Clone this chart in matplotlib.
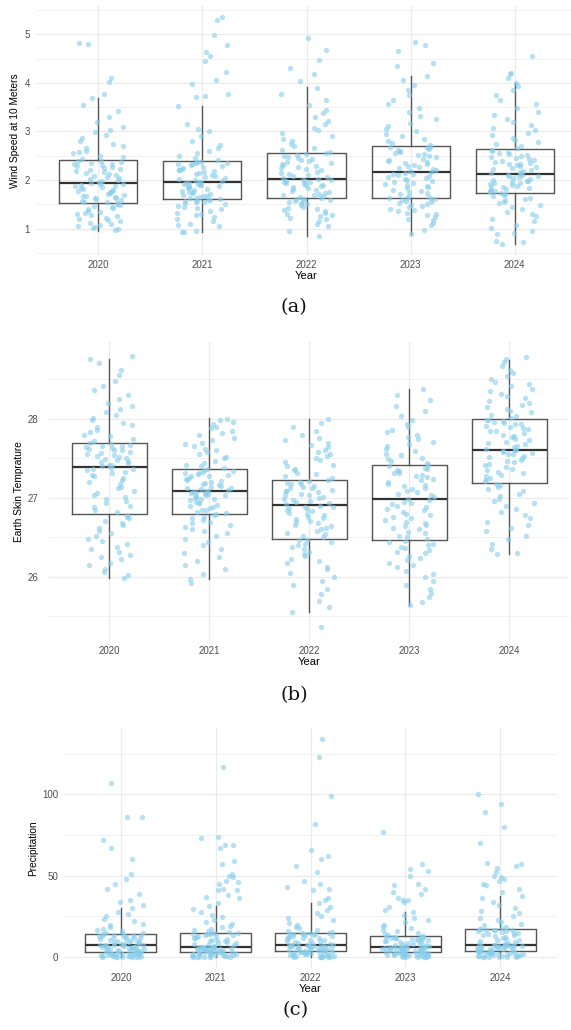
import numpy as np
import matplotlib.pyplot as plt

years = ['2020', '2021', '2022', '2023', '2024']

# --- (a) wind speed, points ---
wind_2020 = [0.97, 1.0, 1.02, 1.04, 1.06, 1.08, 1.1, 1.12, 1.15, 1.18, 1.2, 1.22, 1.25, 1.27, 1.3, 1.32, 1.35, 1.37, 1.4, 1.42, 1.45, 1.47, 1.49, 1.51, 1.52,
             1.54, 1.55, 1.57, 1.58, 1.6, 1.62, 1.63, 1.65, 1.67, 1.68, 1.7, 1.72, 1.73, 1.75, 1.77, 1.78, 1.8, 1.82, 1.83, 1.85, 1.87, 1.88, 1.9, 1.91, 1.92,
             1.94, 1.96, 1.98, 2.0, 2.02, 2.04, 2.06, 2.08, 2.1, 2.12, 2.14, 2.16, 2.18, 2.2, 2.22, 2.24, 2.26, 2.28, 2.3, 2.32, 2.34, 2.36, 2.38, 2.39, 2.4,
             2.43, 2.47, 2.5, 2.55, 2.58, 2.6, 2.65, 2.7, 2.75, 2.8, 2.87, 2.93, 2.98, 3.02, 3.1, 3.2, 3.3, 3.42, 3.55, 3.68, 3.78, 4.02, 4.1, 4.8, 4.83]
wind_2021 = [0.92, 0.93, 0.95, 1.05, 1.08, 1.1, 1.15, 1.2, 1.24, 1.28, 1.3, 1.33, 1.37, 1.4, 1.42, 1.45, 1.47, 1.5, 1.52, 1.54, 1.55, 1.56, 1.57, 1.58, 1.59,
             1.61, 1.62, 1.64, 1.65, 1.67, 1.68, 1.7, 1.71, 1.73, 1.75, 1.76, 1.78, 1.8, 1.81, 1.83, 1.85, 1.86, 1.88, 1.89, 1.9, 1.91, 1.92, 1.93, 1.94, 1.95,
             1.96, 1.98, 2.0, 2.02, 2.04, 2.06, 2.08, 2.1, 2.12, 2.14, 2.16, 2.18, 2.2, 2.21, 2.23, 2.25, 2.27, 2.29, 2.3, 2.32, 2.33, 2.35, 2.36, 2.37, 2.38,
             2.42, 2.46, 2.5, 2.55, 2.6, 2.65, 2.72, 2.8, 2.9, 3.0, 3.05, 3.15, 3.53, 3.7, 3.74, 3.78, 3.97, 4.05, 4.22, 4.45, 4.55, 4.63, 4.78, 4.98, 5.36, 5.3]
wind_2022 = [0.84, 0.95, 1.05, 1.1, 1.15, 1.2, 1.22, 1.25, 1.28, 1.3, 1.33, 1.36, 1.38, 1.4, 1.43, 1.45, 1.48, 1.5, 1.52, 1.54, 1.56, 1.57, 1.58, 1.6, 1.61,
             1.63, 1.65, 1.67, 1.69, 1.7, 1.72, 1.74, 1.76, 1.78, 1.8, 1.82, 1.83, 1.85, 1.87, 1.89, 1.9, 1.92, 1.93, 1.95, 1.96, 1.97, 1.98, 2.0, 2.01, 2.02,
             2.04, 2.06, 2.08, 2.1, 2.13, 2.15, 2.17, 2.2, 2.22, 2.24, 2.27, 2.29, 2.31, 2.34, 2.36, 2.38, 2.4, 2.42, 2.44, 2.46, 2.48, 2.5, 2.52, 2.54, 2.55,
             2.58, 2.62, 2.66, 2.7, 2.75, 2.8, 2.85, 2.9, 2.96, 3.02, 3.08, 3.15, 3.22, 3.3, 3.38, 3.45, 3.55, 3.65, 3.78, 3.9, 4.03, 4.19, 4.31, 4.48, 4.68, 4.92]
wind_2023 = [0.88, 0.98, 1.08, 1.12, 1.18, 1.2, 1.24, 1.27, 1.3, 1.33, 1.36, 1.39, 1.41, 1.44, 1.46, 1.48, 1.5, 1.52, 1.54, 1.56, 1.58, 1.6, 1.61, 1.62, 1.63,
             1.66, 1.68, 1.71, 1.73, 1.76, 1.78, 1.8, 1.83, 1.85, 1.87, 1.9, 1.92, 1.94, 1.96, 1.98, 2.0, 2.02, 2.04, 2.06, 2.08, 2.1, 2.12, 2.13, 2.15, 2.16,
             2.18, 2.2, 2.22, 2.24, 2.26, 2.28, 2.3, 2.33, 2.35, 2.37, 2.4, 2.42, 2.44, 2.47, 2.49, 2.51, 2.54, 2.56, 2.58, 2.6, 2.62, 2.64, 2.66, 2.68, 2.69,
             2.72, 2.76, 2.8, 2.85, 2.9, 2.95, 3.0, 3.06, 3.12, 3.18, 3.25, 3.32, 3.4, 3.48, 3.56, 3.65, 3.75, 3.85, 3.95, 4.05, 4.15, 4.34, 4.41, 4.65, 4.79, 4.84]
wind_2024 = [0.69, 0.72, 0.75, 0.88, 0.9, 0.95, 1.02, 1.08, 1.15, 1.2, 1.26, 1.3, 1.35, 1.4, 1.44, 1.48, 1.52, 1.55, 1.58, 1.61, 1.64, 1.67, 1.69, 1.71, 1.73,
             1.75, 1.77, 1.78, 1.8, 1.82, 1.83, 1.85, 1.86, 1.88, 1.9, 1.91, 1.93, 1.94, 1.96, 1.98, 1.99, 2.01, 2.03, 2.04, 2.06, 2.08, 2.09, 2.1, 2.11, 2.12,
             2.14, 2.16, 2.18, 2.2, 2.22, 2.24, 2.26, 2.28, 2.3, 2.32, 2.34, 2.36, 2.38, 2.4, 2.42, 2.44, 2.46, 2.48, 2.5, 2.52, 2.54, 2.56, 2.58, 2.6, 2.62,
             2.66, 2.7, 2.74, 2.78, 2.82, 2.87, 2.92, 2.97, 3.02, 3.08, 3.14, 3.2, 3.26, 3.33, 3.4, 3.48, 3.56, 3.65, 3.75, 3.85, 3.93, 4.0, 4.1, 4.18, 4.2, 4.56]

wind_whislo = [0.95, 0.92, 0.84, 0.88, 0.69]
wind_q1 = [1.53, 1.60, 1.62, 1.64, 1.74]
wind_med = [1.93, 1.95, 2.03, 2.17, 2.13]
wind_q3 = [2.41, 2.39, 2.56, 2.70, 2.64]
wind_whishi = [3.69, 3.53, 3.92, 4.15, 4.00]

# --- (b) earth skin temperature ---
temp_2020 = [25.99, 26.02, 26.06, 26.1, 26.15, 26.18, 26.22, 26.25, 26.28, 26.32, 26.35, 26.38, 26.42, 26.45, 26.48, 26.52, 26.55, 26.58, 26.62, 26.65, 26.68, 26.71, 26.74, 26.76, 26.78,
             26.82, 26.85, 26.88, 26.9, 26.93, 26.96, 26.98, 27.01, 27.04, 27.06, 27.09, 27.12, 27.14, 27.17, 27.2, 27.22, 27.25, 27.27, 27.29, 27.31, 27.33, 27.35, 27.36, 27.37, 27.38,
             27.4, 27.41, 27.42, 27.44, 27.45, 27.46, 27.48, 27.49, 27.5, 27.52, 27.53, 27.54, 27.56, 27.57, 27.58, 27.6, 27.61, 27.62, 27.63, 27.64, 27.65, 27.66, 27.67, 27.68, 27.69,
             27.72, 27.75, 27.78, 27.8, 27.83, 27.86, 27.89, 27.92, 27.95, 27.98, 28.01, 28.05, 28.08, 28.12, 28.16, 28.2, 28.25, 28.3, 28.36, 28.42, 28.48, 28.55, 28.62, 28.7, 28.76, 28.8]
temp_2021 = [25.92, 25.97, 26.03, 26.1, 26.15, 26.2, 26.25, 26.3, 26.35, 26.4, 26.44, 26.48, 26.52, 26.55, 26.58, 26.6, 26.63, 26.66, 26.68, 26.7, 26.72, 26.74, 26.76, 26.78, 26.79,
             26.81, 26.82, 26.84, 26.85, 26.87, 26.88, 26.9, 26.91, 26.93, 26.94, 26.95, 26.97, 26.98, 26.99, 27.0, 27.01, 27.02, 27.03, 27.04, 27.05, 27.05, 27.06, 27.07, 27.07, 27.08,
             27.09, 27.1, 27.11, 27.12, 27.13, 27.14, 27.15, 27.16, 27.18, 27.19, 27.2, 27.21, 27.23, 27.24, 27.25, 27.27, 27.28, 27.29, 27.3, 27.31, 27.32, 27.33, 27.34, 27.35, 27.36,
             27.38, 27.4, 27.42, 27.44, 27.47, 27.5, 27.52, 27.55, 27.58, 27.6, 27.62, 27.65, 27.68, 27.7, 27.73, 27.76, 27.79, 27.82, 27.85, 27.88, 27.9, 27.93, 27.96, 27.99, 28.0]
temp_2022 = [25.36, 25.56, 25.62, 25.7, 25.78, 25.85, 25.9, 25.95, 26.0, 26.05, 26.1, 26.13, 26.17, 26.2, 26.23, 26.26, 26.29, 26.32, 26.35, 26.38, 26.4, 26.42, 26.44, 26.46, 26.47,
             26.5, 26.52, 26.54, 26.56, 26.58, 26.6, 26.62, 26.64, 26.66, 26.68, 26.7, 26.71, 26.73, 26.75, 26.76, 26.78, 26.8, 26.81, 26.83, 26.84, 26.86, 26.87, 26.88, 26.89, 26.9,
             26.92, 26.93, 26.95, 26.96, 26.97, 26.99, 27.0, 27.01, 27.03, 27.04, 27.05, 27.07, 27.08, 27.09, 27.1, 27.12, 27.13, 27.14, 27.15, 27.17, 27.18, 27.19, 27.2, 27.21, 27.22,
             27.25, 27.27, 27.3, 27.32, 27.35, 27.37, 27.4, 27.42, 27.45, 27.48, 27.5, 27.53, 27.56, 27.58, 27.61, 27.64, 27.67, 27.7, 27.73, 27.76, 27.8, 27.84, 27.9, 27.95, 28.0]
temp_2023 = [25.64, 25.68, 25.75, 25.8, 25.85, 25.9, 25.95, 26.0, 26.04, 26.08, 26.12, 26.15, 26.18, 26.21, 26.24, 26.27, 26.3, 26.32, 26.34, 26.36, 26.38, 26.4, 26.42, 26.44, 26.45,
             26.48, 26.5, 26.52, 26.55, 26.57, 26.6, 26.62, 26.64, 26.66, 26.68, 26.7, 26.72, 26.74, 26.76, 26.78, 26.8, 26.82, 26.84, 26.86, 26.88, 26.9, 26.92, 26.94, 26.95, 26.97,
             26.99, 27.01, 27.03, 27.05, 27.07, 27.09, 27.11, 27.13, 27.15, 27.16, 27.18, 27.2, 27.22, 27.24, 27.26, 27.27, 27.29, 27.31, 27.32, 27.34, 27.35, 27.37, 27.38, 27.4, 27.41,
             27.44, 27.46, 27.49, 27.51, 27.54, 27.56, 27.59, 27.62, 27.65, 27.68, 27.71, 27.74, 27.77, 27.8, 27.83, 27.86, 27.9, 27.94, 27.98, 28.04, 28.1, 28.16, 28.24, 28.3, 28.38]
temp_2024 = [26.29, 26.3, 26.35, 26.42, 26.48, 26.52, 26.58, 26.62, 26.66, 26.7, 26.74, 26.78, 26.82, 26.86, 26.9, 26.93, 26.96, 26.99, 27.02, 27.05, 27.08, 27.11, 27.14, 27.16, 27.18,
             27.21, 27.23, 27.25, 27.27, 27.29, 27.31, 27.33, 27.35, 27.37, 27.39, 27.41, 27.43, 27.45, 27.47, 27.48, 27.5, 27.52, 27.53, 27.55, 27.56, 27.57, 27.58, 27.59, 27.6, 27.6,
             27.62, 27.64, 27.66, 27.68, 27.69, 27.71, 27.73, 27.75, 27.77, 27.78, 27.8, 27.82, 27.84, 27.85, 27.87, 27.88, 27.9, 27.91, 27.93, 27.94, 27.95, 27.96, 27.97, 27.98, 27.99,
             28.01, 28.03, 28.05, 28.08, 28.1, 28.12, 28.15, 28.18, 28.2, 28.23, 28.26, 28.29, 28.32, 28.35, 28.38, 28.41, 28.44, 28.47, 28.5, 28.54, 28.58, 28.62, 28.67, 28.72, 28.76, 28.78]

temp_whislo = [25.99, 25.97, 25.56, 25.64, 26.29]
temp_q1 = [26.80, 26.80, 26.48, 26.46, 27.19]
temp_med = [27.39, 27.08, 26.91, 26.98, 27.61]
temp_q3 = [27.70, 27.36, 27.23, 27.42, 28.00]
temp_whishi = [28.76, 28.01, 28.00, 28.38, 28.74]

# --- (c) precipitation ---
rain_2020 = [0, 0, 0, 0.1, 0.1, 0.2, 0.3, 0.4, 0.5, 0.6, 0.8, 0.9, 1.0, 1.2, 1.4, 1.5, 1.7, 1.9, 2.0, 2.2, 2.4, 2.5, 2.7, 2.9, 3.0,
             3.2, 3.4, 3.6, 3.8, 4.0, 4.2, 4.4, 4.6, 4.8, 5.0, 5.2, 5.4, 5.6, 5.8, 6.0, 6.2, 6.4, 6.6, 6.8, 7.0, 7.1, 7.2, 7.3, 7.3, 7.4,
             7.6, 7.9, 8.2, 8.5, 8.8, 9.1, 9.4, 9.7, 10, 10.3, 10.6, 10.9, 11.2, 11.5, 11.8, 12.1, 12.4, 12.7, 13, 13.2, 13.4, 13.6, 13.8, 13.9, 14,
             14.5, 15, 15.8, 16.5, 17.4, 18.5, 19.5, 20.6, 22, 23.5, 25, 26.5, 28, 30, 32, 34, 35, 39, 42, 45, 48, 51, 60, 67, 72, 86, 86, 107]
rain_2021 = [0, 0, 0, 0.1, 0.2, 0.3, 0.4, 0.5, 0.7, 0.8, 1.0, 1.1, 1.3, 1.5, 1.6, 1.8, 2.0, 2.1, 2.3, 2.5, 2.6, 2.7, 2.8, 2.9, 3.0,
             3.2, 3.3, 3.5, 3.6, 3.8, 3.9, 4.1, 4.2, 4.4, 4.5, 4.7, 4.8, 5.0, 5.1, 5.3, 5.4, 5.6, 5.7, 5.8, 6.0, 6.1, 6.2, 6.3, 6.4, 6.5,
             6.8, 7.2, 7.6, 8.0, 8.4, 8.8, 9.2, 9.6, 10, 10.4, 10.8, 11.2, 11.6, 12, 12.4, 12.7, 13, 13.3, 13.6, 13.9, 14.1, 14.3, 14.5, 14.6, 14.7,
             15.2, 15.8, 16.5, 17.3, 18.2, 19.2, 20.3, 21.5, 23, 24.5, 26, 28, 29.5, 31.5, 33, 36, 37, 38, 41, 41, 42, 45, 46, 47, 49, 50, 51, 57, 59, 67, 69, 69, 73, 74, 117]
rain_2022 = [0, 0, 0, 0.1, 0.2, 0.3, 0.4, 0.6, 0.7, 0.9, 1.0, 1.2, 1.4, 1.6, 1.8, 2.0, 2.2, 2.4, 2.6, 2.8, 3.0, 3.1, 3.2, 3.3, 3.4,
             3.6, 3.8, 4.0, 4.2, 4.4, 4.6, 4.8, 5.0, 5.2, 5.4, 5.6, 5.8, 6.0, 6.2, 6.4, 6.6, 6.7, 6.8, 6.9, 7.0, 7.1, 7.2, 7.3, 7.3, 7.4,
             7.6, 8.0, 8.4, 8.8, 9.2, 9.6, 10, 10.4, 10.8, 11.2, 11.6, 12, 12.3, 12.6, 12.9, 13.2, 13.5, 13.7, 13.9, 14.1, 14.3, 14.4, 14.5, 14.6, 14.7,
             15.3, 16, 16.8, 17.7, 18.7, 19.8, 21, 22.5, 24, 25.5, 27, 29, 31, 33, 35, 36, 41, 42, 43, 45, 47, 52, 56, 60, 62, 66, 82, 99, 123, 134]
rain_2023 = [0, 0, 0, 0.1, 0.2, 0.3, 0.4, 0.5, 0.7, 0.8, 1.0, 1.1, 1.3, 1.5, 1.6, 1.8, 2.0, 2.1, 2.3, 2.5, 2.6, 2.7, 2.8, 2.9, 3.0,
             3.2, 3.3, 3.5, 3.6, 3.8, 3.9, 4.1, 4.2, 4.4, 4.5, 4.7, 4.8, 5.0, 5.1, 5.3, 5.4, 5.6, 5.7, 5.8, 6.0, 6.1, 6.2, 6.3, 6.4, 6.5,
             6.7, 7.0, 7.3, 7.6, 7.9, 8.2, 8.5, 8.8, 9.1, 9.4, 9.7, 10, 10.3, 10.6, 10.9, 11.1, 11.3, 11.5, 11.7, 11.9, 12.1, 12.3, 12.4, 12.5, 12.6,
             13, 13.5, 14.2, 15, 15.8, 16.7, 17.7, 18.8, 20, 21.3, 22.7, 24.2, 25.8, 27.4, 29, 31, 34, 35, 35, 36, 39, 40, 42, 44, 45, 50, 53, 54, 57, 77]
rain_2024 = [0, 0, 0, 0.1, 0.2, 0.3, 0.4, 0.6, 0.7, 0.9, 1.0, 1.2, 1.4, 1.6, 1.8, 2.0, 2.2, 2.4, 2.6, 2.8, 3.0, 3.1, 3.2, 3.3, 3.4,
             3.6, 3.8, 4.0, 4.2, 4.4, 4.6, 4.8, 5.0, 5.2, 5.4, 5.6, 5.8, 6.0, 6.2, 6.4, 6.6, 6.7, 6.8, 6.9, 7.0, 7.1, 7.2, 7.3, 7.3, 7.4,
             7.8, 8.3, 8.8, 9.3, 9.8, 10.3, 10.8, 11.3, 11.8, 12.3, 12.8, 13.3, 13.8, 14.2, 14.6, 15, 15.4, 15.8, 16.1, 16.4, 16.6, 16.8, 16.9, 17, 17.1,
             17.8, 18.6, 19.5, 20.5, 21.6, 22.8, 24, 25.5, 27, 28.5, 30, 32, 34, 36, 37.6, 40, 42, 44, 45, 47, 48, 49, 50, 52, 55, 56, 57, 58, 70, 80, 89, 94, 100]

rain_whislo = [0, 0, 0, 0, 0]
rain_q1 = [3.1, 3.1, 3.5, 3.1, 3.5]
rain_med = [7.4, 6.5, 7.4, 6.5, 7.4]
rain_q3 = [14.1, 14.7, 14.7, 12.7, 17.2]
rain_whishi = [30.0, 31.5, 33.0, 27.4, 37.6]

W, H = 571, 1030
fig = plt.figure(figsize=(W / 100, H / 100), dpi=100)
plt.rcParams['font.family'] = ['Liberation Sans', 'DejaVu Sans']


def panel(px, groups, lo, q1, med, q3, hi, ylabel, major, minor, ypad, ylpad):
    left, top, right, bottom = px
    ax = fig.add_axes([left / W, 1 - bottom / H, (right - left) / W, (bottom - top) / H])
    stats = [dict(whislo=lo[i], q1=q1[i], med=med[i], q3=q3[i], whishi=hi[i], fliers=[])
             for i in range(len(years))]
    ax.bxp(stats, positions=range(len(years)), widths=0.75, showfliers=False, showcaps=False,
           boxprops=dict(color='#555555', linewidth=1.0),
           whiskerprops=dict(color='#555555', linewidth=1.0),
           medianprops=dict(color='#333333', linewidth=1.6))
    for i, vals in enumerate(groups):
        # horizontal jitter only (position, not data): hashed offsets in +-0.25
        k = np.arange(len(vals))
        h = np.abs(np.sin(k * 12.9898 + i * 78.233 + 1.7)) * 43758.5453
        offs = (h - np.floor(h) - 0.5) * 0.5
        ax.scatter(i + offs, vals, s=15, color='#87CEEB', alpha=0.6, linewidths=0, zorder=3)
    ax.set_xlim(-0.6, 4.6)
    ax.set_xticks(range(len(years)), years)
    ax.set_yticks(major)
    ax.set_yticks(minor, minor=True)
    ax.grid(True, which='major', color='#EBEBEB', linewidth=0.9)
    ax.grid(True, which='minor', axis='y', color='#F0F0F0', linewidth=0.6)
    ax.set_axisbelow(True)
    for s in ax.spines.values():
        s.set_visible(False)
    ax.tick_params(axis='both', which='both', length=0, labelsize=7, labelcolor='#4D4D4D')
    ax.tick_params(axis='x', pad=3.5)
    ax.tick_params(axis='y', pad=ypad)
    ax.set_xlabel('Year', fontsize=8, labelpad=1)
    ax.set_ylabel(ylabel, fontsize=7.3, labelpad=ylpad)
    return ax


panel((36, 5.5, 577, 255), [wind_2020, wind_2021, wind_2022, wind_2023, wind_2024],
      wind_whislo, wind_q1, wind_med, wind_q3, wind_whishi,
      'Wind Speed at 10 Meters', [1, 2, 3, 4, 5], [0.5, 1.5, 2.5, 3.5, 4.5, 5.5], 4.3, 3)
panel((49, 342, 569, 641), [temp_2020, temp_2021, temp_2022, temp_2023, temp_2024],
      temp_whislo, temp_q1, temp_med, temp_q3, temp_whishi,
      'Earth Skin Temprature', [26, 27, 28], [25.5, 26.5, 27.5, 28.5], 7.5, 3)
panel((64, 728, 557, 968), [rain_2020, rain_2021, rain_2022, rain_2023, rain_2024],
      rain_whislo, rain_q1, rain_med, rain_q3, rain_whishi,
      'Precipitation', [0, 50, 100], [25, 75, 125], 4.3, 3)

cap = dict(family='DejaVu Serif', fontsize=14, ha='center', va='center', color='#111111')
fig.text(294 / W, 1 - 307 / H, '(a)', **cap)
fig.text(294 / W, 1 - 695 / H, '(b)', **cap)
fig.text(296 / W, 1 - 1010 / H, '(c)', **cap)

fig.savefig('out.png', dpi=100)
